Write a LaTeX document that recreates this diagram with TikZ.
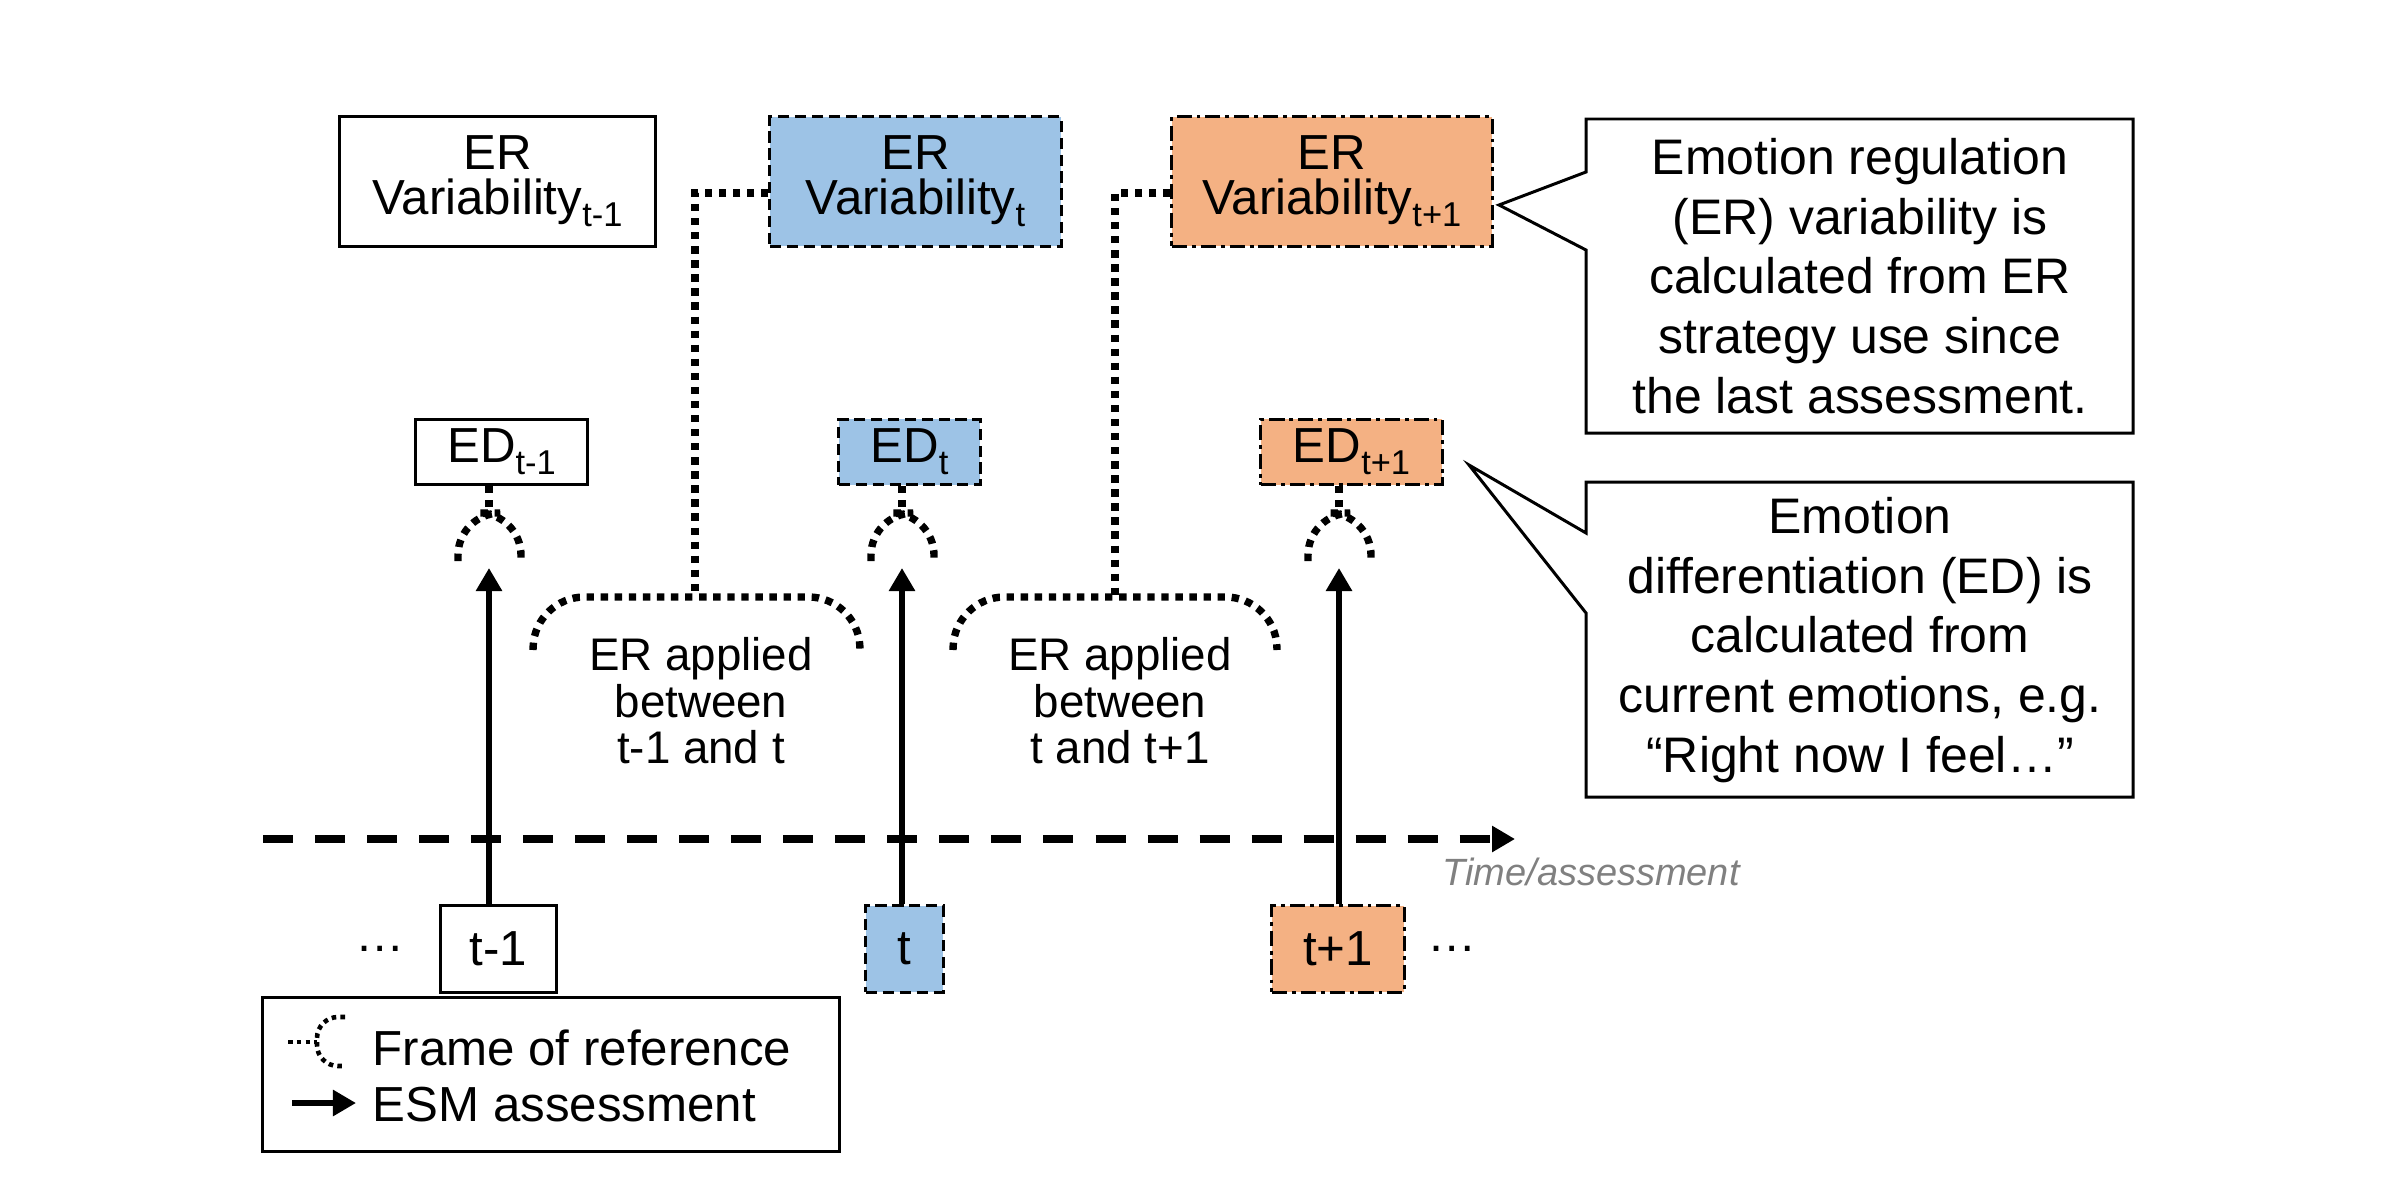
\documentclass[tikz,border=0pt]{standalone}
\usepackage{fontspec}
\setmainfont{Liberation Sans}
\usetikzlibrary{arrows.meta}
\definecolor{bluefill}{RGB}{157,195,230}
\definecolor{orangefill}{RGB}{244,177,131}
\definecolor{timegray}{RGB}{128,128,128}
\newcommand\sbs[1]{\raisebox{-3.4pt}[0pt]{\fontsize{9.8}{10}\selectfont #1}}
\begin{document}
\begin{tikzpicture}[x=0.01cm,y=-0.01cm,
  box/.style={draw=black,line width=0.85pt,inner sep=0pt,align=center,font=\fontsize{14}{12.8}\selectfont},
  solidbox/.style={box},
  bluebox/.style={box,fill=bluefill,dash pattern=on 3.2pt off 1.6pt},
  orangebox/.style={box,fill=orangefill,dash pattern=on 4.3pt off 1.4pt on 1.1pt off 1.4pt},
  frameline/.style={line width=2.1pt,dash pattern=on 2.1pt off 1.9pt},
  smalldot/.style={line width=1.3pt,dash pattern=on 1.3pt off 1.2pt},
  esm/.style={line width=1.7pt,-{Triangle[length=0.23cm,width=0.25cm]}},
  txt/.style={inner sep=0pt,align=center,font=\fontsize{14}{17}\selectfont},
  calloutline/.style={draw=black,line width=0.85pt,line join=miter}
]
\useasboundingbox (0,0) rectangle (2400,1200);

% ER variability boxes
\node[solidbox,minimum width=3.15cm,minimum height=1.29cm] (erv1) at (497.5,181.5) {ER\\Variability\sbs{t-1}};
\node[bluebox,minimum width=2.91cm,minimum height=1.29cm] (erv2) at (915.5,181.5) {ER\\Variability\sbs{t}};
\node[orangebox,minimum width=3.20cm,minimum height=1.29cm] (erv3) at (1332,181.5) {ER\\Variability\sbs{t+1}};

% ED boxes
\node[solidbox,minimum width=1.71cm,minimum height=0.65cm] (ed1) at (501.5,452) {ED\sbs{t-1}};
\node[bluebox,minimum width=1.41cm,minimum height=0.65cm] (ed2) at (909.5,452) {ED\sbs{t}};
\node[orangebox,minimum width=1.81cm,minimum height=0.65cm] (ed3) at (1351.5,452) {ED\sbs{t+1}};

% assessment boxes
\node[solidbox,minimum width=1.15cm,minimum height=0.86cm] (b1) at (498.5,949) {t-1};
\node[bluebox,minimum width=0.77cm,minimum height=0.86cm] (b2) at (904.5,949) {t};
\node[orangebox,minimum width=1.32cm,minimum height=0.86cm] (b3) at (1338,949) {t+1};

\node[txt] (dl) at (380,949) {…};
\node[txt] (dr) at (1452,949) {…};

% timeline
\coordinate (tl0) at (263,839);
\coordinate (tl1) at (1515,839);
\draw[line width=2.2pt,dash pattern=on 0.3cm off 0.22cm,-{Triangle[length=0.23cm,width=0.25cm]}] (tl0) -- (tl1);
\node[inner sep=0pt,font=\fontsize{10.8}{12}\selectfont\itshape,text=timegray] (time) at (1591,872) {Time/assessment};

% arrow tips / frames of reference
\coordinate (a1) at (489,568);
\coordinate (a2) at (902,568);
\coordinate (a3) at (1339,568);
\draw[esm] (b1.north -| a1) -- (a1);
\draw[esm] (b2.north -| a2) -- (a2);
\draw[esm] (b3.north -| a3) -- (a3);

\foreach \e/\c in {ed1/489, ed2/902, ed3/1339} {
  \draw[frameline] (\e.south -| {\c,0}) -- (\c,511);
  \draw[frameline,rounded corners=12] (\c-31,561) -- (\c-31,513) -- (\c+32,513) -- (\c+32,561);
}

% ER application braces
\coordinate (k1) at (695,193);
\coordinate (k2) at (1115,193);
\draw[frameline,rounded corners=14] (533,650) -- (535,597) -- (858,597) -- (860,650);
\draw[frameline,rounded corners=14] (953,650) -- (955,597) -- (1275,597) -- (1277,650);
\draw[frameline] (erv2.west |- k1) -- (k1) -- (695,595);
\draw[frameline] (erv3.west |- k2) -- (k2) -- (1115,595);

\node[inner sep=0pt,align=center,font=\fontsize{13}{13.2}\selectfont] (app1) at (701,701) {ER applied\\between\\t-1 and t};
\node[inner sep=0pt,align=center,font=\fontsize{13}{13.2}\selectfont] (app2) at (1120,701) {ER applied\\between\\t and t+1};

% callouts
\draw[calloutline] (1586,119) -- (2133,119) -- (2133,433) -- (1586,433) -- (1586,250) -- (1499,205) -- (1586,172) -- cycle;
\node[txt,font=\fontsize{14.2}{17}\selectfont] (c1) at (1860,276) {Emotion regulation\\(ER) variability is\\calculated from ER\\strategy use since\\the last assessment.};
\draw[calloutline] (1586,482) -- (2133,482) -- (2133,797) -- (1586,797) -- (1586,613) -- (1469,465) -- (1586,533) -- cycle;
\node[txt,font=\fontsize{14.2}{17}\selectfont] (c2) at (1860,640) {Emotion\\differentiation (ED) is\\calculated from\\current emotions, e.g.\\“Right now I feel…”};

% legend
\node[draw=black,line width=0.85pt,minimum width=5.76cm,minimum height=1.53cm,inner sep=0pt] (leg) at (551,1074.5) {};
\node[inner sep=0pt,anchor=west,font=\fontsize{14}{17}\selectfont] (l1) at (372,1048) {Frame of reference};
\node[inner sep=0pt,anchor=west,font=\fontsize{14}{17}\selectfont] (l2) at (372,1105) {ESM assessment};
\coordinate (ic) at (317,1042);
\draw[smalldot] (288,1042) -- (ic);
\draw[smalldot,rounded corners=6] (345,1017) -- (317,1017) -- (317,1066) -- (345,1066);
\coordinate (la0) at (292,1103);
\coordinate (la1) at (356,1103);
\draw[line width=1.6pt,-{Triangle[length=0.23cm,width=0.25cm]}] (la0) -- (la1);
\end{tikzpicture}
\end{document}
